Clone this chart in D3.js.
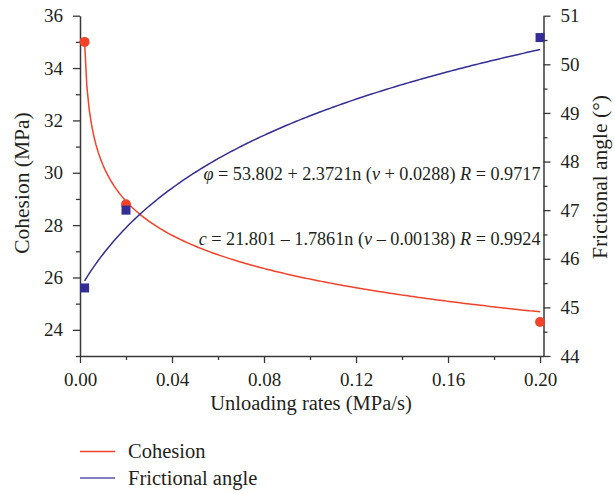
<!DOCTYPE html>
<html>
<head>
<meta charset="utf-8">
<script src="https://cdn.jsdelivr.net/npm/d3@7"></script>
<style>
  html, body { margin: 0; padding: 0; background: #fff; }
  svg { display: block; font-family: "Liberation Serif", "Times New Roman", serif; }
</style>
</head>
<body>
<svg id="chart" width="615" height="494"></svg>
<script>
// Measured values at each unloading rate (MPa/s)
const rates = [0.002, 0.02, 0.2];
const cohesion = [35.0, 28.8, 24.3];        // MPa
const frictionAngle = [45.4, 47.0, 50.55];  // degrees

// Logarithmic fits: y = a + b * ln(v + shift)
const cohesionFit = [21.801, -1.786, -0.00138];
const angleFit = [53.802, 2.3721, 0.0288];
const cohesionR = "0.9924";
const angleR = "0.9717";

// Axis ticks
const xTicks = [0, 0.04, 0.08, 0.12, 0.16, 0.20];
const xMinorTicks = [0.02, 0.06, 0.10, 0.14, 0.18];
const cohesionTicks = [24, 26, 28, 30, 32, 34, 36];
const cohesionMinor = [23, 25, 27, 29, 31, 33, 35];
const angleTicks = [44, 45, 46, 47, 48, 49, 50, 51];
const angleMinor = [44.5, 45.5, 46.5, 47.5, 48.5, 49.5, 50.5];

const seriesNames = ["Cohesion", "Frictional angle"];

const RED = "#f0432a";
const BLUE = "#332e96";
const AXIS = "#383838";

const svg = d3.select("#chart");

const plotLeft = 80, plotRight = 543.5, plotTop = 15.7, plotBottom = 356;

const x = d3.scaleLinear().domain([0, 0.2015]).range([plotLeft, plotRight]);
const yC = d3.scaleLinear().domain([23, 36]).range([plotBottom, plotTop]);
const yA = d3.scaleLinear().domain([44, 51]).range([plotBottom, plotTop]);

function styleAxis(g) {
  g.selectAll("path.domain").attr("stroke", AXIS).attr("stroke-width", 1.5);
  g.selectAll(".tick line").attr("stroke", AXIS).attr("stroke-width", 1.3);
  g.selectAll(".tick text").attr("fill", "#231f20")
    .style("font-family", '"Liberation Serif", "Times New Roman", serif')
    .style("font-size", "19px");
}

// Minor ticks first, then major axes on top
svg.append("g").attr("transform", `translate(0,${plotBottom})`)
  .call(d3.axisBottom(x).tickValues(xMinorTicks).tickSize(4).tickFormat(""))
  .call(g => g.select(".domain").remove()).call(styleAxis);
svg.append("g").attr("transform", `translate(${plotLeft},0)`)
  .call(d3.axisLeft(yC).tickValues(cohesionMinor).tickSize(4).tickFormat(""))
  .call(g => g.select(".domain").remove()).call(styleAxis);
svg.append("g").attr("transform", `translate(${plotRight},0)`)
  .call(d3.axisRight(yA).tickValues(angleMinor).tickSize(4).tickFormat(""))
  .call(g => g.select(".domain").remove()).call(styleAxis);

svg.append("g").attr("transform", `translate(0,${plotBottom})`)
  .call(d3.axisBottom(x).tickValues(xTicks).tickSize(7).tickSizeOuter(0)
    .tickPadding(10).tickFormat(d3.format(".2f")))
  .call(styleAxis);
svg.append("g").attr("transform", `translate(${plotLeft},0)`)
  .call(d3.axisLeft(yC).tickValues(cohesionTicks).tickSize(7).tickSizeOuter(0)
    .tickPadding(10).tickFormat(d3.format("d")))
  .call(styleAxis);
svg.append("g").attr("transform", `translate(${plotRight},0)`)
  .call(d3.axisRight(yA).tickValues(angleTicks).tickSize(7).tickSizeOuter(0)
    .tickPadding(10).tickFormat(d3.format("d")))
  .call(styleAxis);

// Axis titles
svg.append("text")
  .attr("x", 311).attr("y", 410)
  .attr("text-anchor", "middle").attr("fill", "#231f20")
  .style("font-size", "20.5px")
  .text("Unloading rates (MPa/s)");
svg.append("text")
  .attr("transform", "translate(29,183) rotate(-90)")
  .attr("text-anchor", "middle").attr("fill", "#231f20")
  .style("font-size", "21.5px")
  .text("Cohesion (MPa)");
svg.append("text")
  .attr("transform", "translate(607,177) rotate(-90)")
  .attr("text-anchor", "middle").attr("fill", "#231f20")
  .style("font-size", "21.5px")
  .text("Frictional angle (°)");

// Fitted curves
const fitRates = d3.range(0, 201).map(i => rates[0] + (rates[2] - rates[0]) * i / 200);
const fitFn = p => v => p[0] + p[1] * Math.log(v + p[2]);
const cohesionCurve = fitFn(cohesionFit);
const angleCurve = fitFn(angleFit);

svg.append("path")
  .datum(fitRates)
  .attr("fill", "none").attr("stroke", RED).attr("stroke-width", 1.5)
  .attr("d", d3.line().x(v => x(v)).y(v => yC(cohesionCurve(v))));
svg.append("path")
  .datum(fitRates)
  .attr("fill", "none").attr("stroke", BLUE).attr("stroke-width", 1.5)
  .attr("d", d3.line().x(v => x(v)).y(v => yA(angleCurve(v))));

// Measured points
svg.append("g").selectAll("circle")
  .data(rates.map((v, i) => [v, cohesion[i]]))
  .join("circle")
  .attr("cx", d => x(d[0])).attr("cy", d => yC(d[1])).attr("r", 5)
  .attr("fill", RED);

const sq = 9;
svg.append("g").selectAll("rect")
  .data(rates.map((v, i) => [v, frictionAngle[i]]))
  .join("rect")
  .attr("x", d => x(d[0]) - sq / 2).attr("y", d => yA(d[1]) - sq / 2)
  .attr("width", sq).attr("height", sq)
  .attr("fill", BLUE);

// Fit equations
function equation(yPos, parts) {
  const t = svg.append("text")
    .attr("x", plotRight - 3).attr("y", yPos)
    .attr("text-anchor", "end").attr("fill", "#231f20")
    .style("font-size", "18.2px");
  parts.forEach(([s, it]) => {
    t.append("tspan").attr("font-style", it ? "italic" : "normal").text(s);
  });
}
equation(180, [
  ["φ", true], [" = " + angleFit[0] + " + " + angleFit[1] + "n (", false],
  ["ν", true], [" + " + angleFit[2] + ") ", false], ["R", true], [" = " + angleR, false]
]);
equation(245, [
  ["c", true], [" = " + cohesionFit[0] + " – 1.7861n (", false],
  ["ν", true], [" – " + Math.abs(cohesionFit[2]) + ") ", false], ["R", true], [" = " + cohesionR, false]
]);

// Legend
const legend = svg.append("g");
[RED, BLUE].forEach((c, i) => {
  const ly = 451.5 + i * 26.5;
  legend.append("line")
    .attr("x1", 80).attr("x2", 115).attr("y1", ly).attr("y2", ly)
    .attr("stroke", i === 0 ? RED : "#5a52ad").attr("stroke-width", 1.5);
  legend.append("text")
    .attr("x", 128).attr("y", ly + 6.5).attr("fill", "#231f20")
    .style("font-size", "20.5px")
    .text(seriesNames[i]);
});
</script>
</body>
</html>
